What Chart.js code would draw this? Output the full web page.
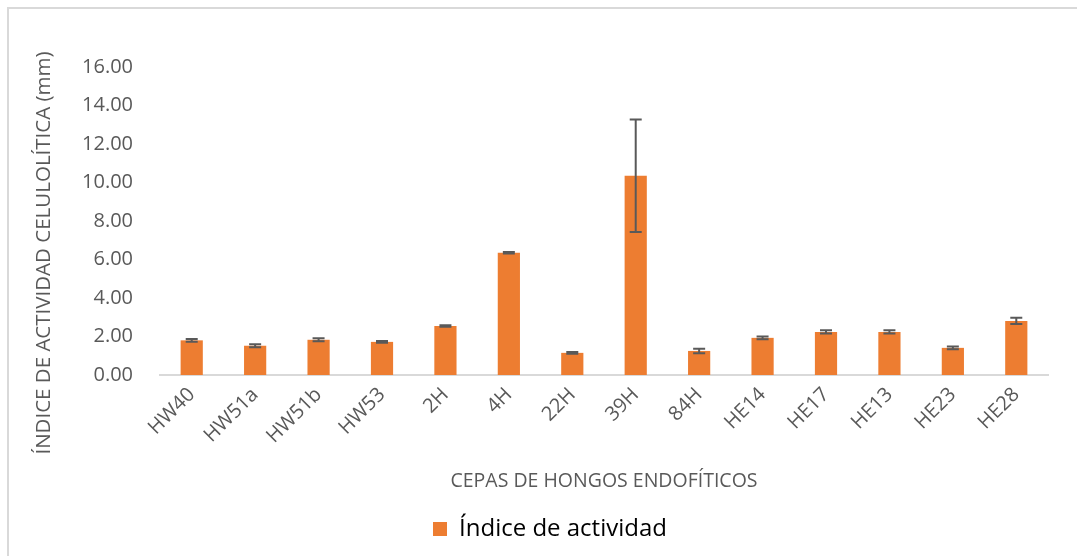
<!DOCTYPE html>
<html>
<head>
<meta charset="utf-8">
<script src="https://cdn.jsdelivr.net/npm/chart.js@4.4.0/dist/chart.umd.min.js"></script>
<style>
  html, body { margin: 0; padding: 0; background: #fff; }
  #wrap { position: relative; width: 1077px; height: 556px; }
  #frame { position: absolute; left: 7px; top: 7px; right: -10px; bottom: -10px;
           border-left: 2px solid #d9d9d9; border-top: 2px solid #d9d9d9; pointer-events: none; }
  canvas { position: absolute; left: 0; top: 0; }
</style>
</head>
<body>
<div id="wrap">
  <canvas id="myChart" width="1077" height="556"></canvas>
  <div id="frame"></div>
</div>
<script>
// categories (cepas)
var cepas = ['HW40', 'HW51a', 'HW51b', 'HW53', '2H', '4H', '22H', '39H', '84H', 'HE14', 'HE17', 'HE13', 'HE23', 'HE28'];
// mean index of cellulolytic activity (mm)
var indice = [1.80, 1.52, 1.83, 1.72, 2.55, 6.35, 1.15, 10.35, 1.25, 1.93, 2.24, 2.24, 1.41, 2.81];
// error bars (+/-)
var errores = [0.07, 0.08, 0.08, 0.05, 0.04, 0.04, 0.04, 2.92, 0.12, 0.07, 0.08, 0.08, 0.07, 0.16];

var tituloY = 'ÍNDICE DE ACTIVIDAD CELULOLÍTICA (mm)';
var tituloX = 'CEPAS DE HONGOS ENDOFÍTICOS';

var fuente = "'Open Sans', 'Noto Sans', sans-serif";

// draws the error bars using the chart's own scales
var errorBars = {
    id: 'errorBars',
    afterDatasetsDraw: function(chart) {
        var ctx = chart.ctx;
        var yScale = chart.scales.y;
        var meta = chart.getDatasetMeta(0);
        ctx.save();
        ctx.strokeStyle = '#595959';
        ctx.lineWidth = 2;
        meta.data.forEach(function(bar, i) {
            var v = indice[i], e = errores[i];
            var yHi = yScale.getPixelForValue(v + e);
            var yLo = yScale.getPixelForValue(v - e);
            var x = bar.x;
            ctx.beginPath();
            ctx.moveTo(x, yHi); ctx.lineTo(x, yLo);
            ctx.moveTo(x - 6, yHi); ctx.lineTo(x + 6, yHi);
            ctx.moveTo(x - 6, yLo); ctx.lineTo(x + 6, yLo);
            ctx.stroke();
        });
        ctx.restore();
    }
};

// y axis title, sits a bit lower than the plot centre like in the excel chart
var yTitle = {
    id: 'yTitle',
    afterDraw: function(chart) {
        var ctx = chart.ctx;
        var area = chart.chartArea;
        ctx.save();
        ctx.translate(44, (area.top + area.bottom) / 2 + 32);
        ctx.rotate(-Math.PI / 2);
        ctx.textAlign = 'center';
        ctx.textBaseline = 'middle';
        ctx.fillStyle = '#595959';
        ctx.font = "20.5px " + fuente;
        ctx.fillText(tituloY, 0, 0);
        ctx.restore();
    }
};

// legend is centred on the plot area rather than the whole canvas
var legendShift = {
    id: 'legendShift',
    afterLayout: function(chart) {
        if (chart.legend) {
            chart.legend.left += 22;
            chart.legend.right += 22;
        }
    }
};

var ctx = document.getElementById('myChart').getContext('2d');

var chart = new Chart(ctx, {
    type: 'bar',
    data: {
        labels: cepas,
        datasets: [{
            label: 'Índice de actividad',
            data: indice,
            backgroundColor: '#ED7D31',
            borderWidth: 0,
            categoryPercentage: 1,
            barPercentage: 0.35
        }]
    },
    options: {
        responsive: false,
        animation: false,
        layout: { padding: { left: 8, top: 67, right: 29, bottom: 5 } },
        plugins: {
            tooltip: { enabled: false },
            legend: {
                position: 'bottom',
                labels: {
                    boxWidth: 14,
                    boxHeight: 14,
                    color: '#000',
                    padding: 10,
                    font: { family: fuente, size: 24 }
                }
            }
        },
        scales: {
            x: {
                grid: { display: true, color: 'transparent', drawTicks: false },
                border: { display: true, color: '#d9d9d9', width: 2 },
                ticks: {
                    color: '#595959',
                    font: { family: fuente, size: 20 },
                    minRotation: 45,
                    maxRotation: 45,
                    padding: 8
                },
                title: {
                    display: true,
                    text: tituloX,
                    color: '#595959',
                    font: { family: fuente, size: 19.5 },
                    padding: { top: 0, bottom: 14 }
                },
                afterFit: function(scale) { scale.height = 132; }
            },
            y: {
                min: 0,
                max: 16,
                grid: { display: false, drawTicks: false },
                border: { display: false },
                ticks: {
                    stepSize: 2,
                    color: '#595959',
                    font: { family: fuente, size: 20 },
                    padding: 27,
                    callback: function(v) { return v.toFixed(2); }
                },
                afterFit: function(scale) { scale.width = 152; }
            }
        }
    },
    plugins: [errorBars, yTitle, legendShift]
});
</script>
</body>
</html>
